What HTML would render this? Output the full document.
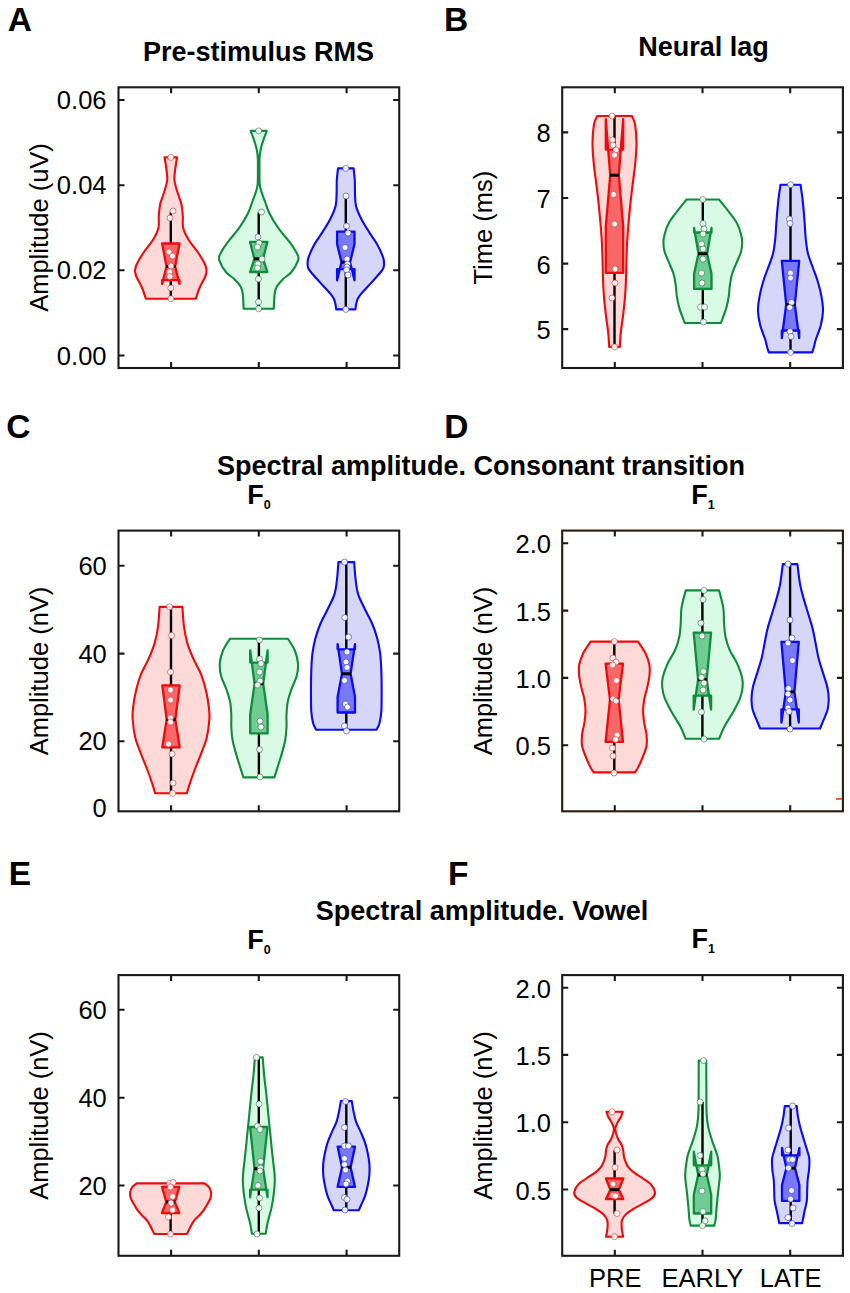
<!DOCTYPE html>
<html><head><meta charset="utf-8"><style>
html,body{margin:0;padding:0;background:#fff;}
svg{display:block;font-family:"Liberation Sans",sans-serif;}
</style></head><body>
<svg width="850" height="1293" viewBox="0 0 850 1293">
<rect width="850" height="1293" fill="#fff"/>
<path d="M164.5 157.4 L177.1 157.4 C176.82 159.17 175.85 164.23 175.4 168 C174.95 171.77 174.07 176 174.4 180 C174.73 184 176.23 188 177.4 192 C178.57 196 180.5 200 181.4 204 C182.3 208 182.5 212 182.8 216 C183.1 220 182.22 224 183.2 228 C184.18 232 186.28 236 188.7 240 C191.12 244 195.02 248 197.7 252 C200.38 256 203.33 261 204.8 264 C206.27 267 206.38 268 206.5 270 C206.62 272 206.67 273 205.5 276 C204.33 279 201.12 284.22 199.5 288 C197.88 291.78 196.42 296.92 195.8 298.7 L145.8 298.7 C145.18 296.92 143.72 291.78 142.1 288 C140.48 284.22 137.27 279 136.1 276 C134.93 273 134.98 272 135.1 270 C135.22 268 135.33 267 136.8 264 C138.27 261 141.22 256 143.9 252 C146.58 248 150.48 244 152.9 240 C155.32 236 157.42 232 158.4 228 C159.38 224 158.5 220 158.8 216 C159.1 212 159.3 208 160.2 204 C161.1 200 163.03 196 164.2 192 C165.37 188 166.87 184 167.2 180 C167.53 176 166.65 171.77 166.2 168 C165.75 164.23 164.78 159.17 164.5 157.4 Z" fill="#fdd9d8" stroke="#f00a0a" stroke-width="2.1" stroke-linejoin="round"/>
<path d="M250.6 130.9 L266.8 130.9 C266.25 132.37 264.48 136.77 263.5 139.7 C262.52 142.63 261.55 145.55 260.9 148.5 C260.25 151.45 259.83 153.98 259.6 157.4 C259.37 160.82 259.48 164.6 259.5 169 C259.52 173.4 259.4 180.1 259.7 183.8 C260 187.5 260.42 188.25 261.3 191.2 C262.18 194.15 263.65 197.83 265 201.5 C266.35 205.17 267.2 208.8 269.4 213.2 C271.6 217.6 274.77 223 278.2 227.9 C281.63 232.8 286.8 238.18 290 242.6 C293.2 247.02 296.05 251.45 297.4 254.4 C298.75 257.35 299.08 257.37 298.1 260.3 C297.12 263.23 294.07 268.82 291.5 272 C288.93 275.18 285.17 276.93 282.7 279.4 C280.23 281.87 278.05 284.35 276.7 286.8 C275.35 289.25 275.08 290.43 274.6 294.1 C274.12 297.77 273.93 306.35 273.8 308.8 L243.6 308.8 C243.47 306.35 243.28 297.77 242.8 294.1 C242.32 290.43 242.05 289.25 240.7 286.8 C239.35 284.35 237.17 281.87 234.7 279.4 C232.23 276.93 228.47 275.18 225.9 272 C223.33 268.82 220.28 263.23 219.3 260.3 C218.32 257.37 218.65 257.35 220 254.4 C221.35 251.45 224.2 247.02 227.4 242.6 C230.6 238.18 235.77 232.8 239.2 227.9 C242.63 223 245.8 217.6 248 213.2 C250.2 208.8 251.05 205.17 252.4 201.5 C253.75 197.83 255.22 194.15 256.1 191.2 C256.98 188.25 257.4 187.5 257.7 183.8 C258 180.1 257.88 173.4 257.9 169 C257.92 164.6 258.03 160.82 257.8 157.4 C257.57 153.98 257.15 151.45 256.5 148.5 C255.85 145.55 254.88 142.63 253.9 139.7 C252.92 136.77 251.15 132.37 250.6 130.9 Z" fill="#d9fbe6" stroke="#0f8c3a" stroke-width="2.1" stroke-linejoin="round"/>
<path d="M338 168.4 L353.6 168.4 C353.8 170.42 354.57 176.35 354.8 180.5 C355.03 184.65 354.8 189.05 355 193.3 C355.2 197.55 354.97 201.75 356 206 C357.03 210.25 359.07 214.53 361.2 218.8 C363.33 223.07 366.15 227.35 368.8 231.6 C371.45 235.85 374.73 240.05 377.1 244.3 C379.47 248.55 381.85 253.9 383 257.1 C384.15 260.3 384.1 261.37 384 263.5 C383.9 265.63 384.5 266.72 382.4 269.9 C380.3 273.08 375.15 278.35 371.4 282.6 C367.65 286.85 362.35 292.2 359.9 295.4 C357.45 298.6 357.45 299.47 356.7 301.8 C355.95 304.13 355.62 308.13 355.4 309.4 L336.2 309.4 C335.98 308.13 335.65 304.13 334.9 301.8 C334.15 299.47 334.15 298.6 331.7 295.4 C329.25 292.2 323.95 286.85 320.2 282.6 C316.45 278.35 311.3 273.08 309.2 269.9 C307.1 266.72 307.7 265.63 307.6 263.5 C307.5 261.37 307.45 260.3 308.6 257.1 C309.75 253.9 312.13 248.55 314.5 244.3 C316.87 240.05 320.15 235.85 322.8 231.6 C325.45 227.35 328.27 223.07 330.4 218.8 C332.53 214.53 334.57 210.25 335.6 206 C336.63 201.75 336.4 197.55 336.6 193.3 C336.8 189.05 336.57 184.65 336.8 180.5 C337.03 176.35 337.8 170.42 338 168.4 Z" fill="#d6d6f9" stroke="#0a0af5" stroke-width="2.1" stroke-linejoin="round"/>
<path d="M597.2 116 L631.8 116 C632.33 117.33 634.22 119.52 635 124 C635.78 128.48 636.43 136.58 636.5 142.9 C636.57 149.22 635.97 155.57 635.4 161.9 C634.83 168.23 633.87 174.57 633.1 180.9 C632.33 187.23 631.5 193.58 630.8 199.9 C630.1 206.22 629.47 212.48 628.9 218.8 C628.33 225.12 627.8 231.47 627.4 237.8 C627 244.13 626.72 250.48 626.5 256.8 C626.28 263.12 626.32 269.38 626.1 275.7 C625.88 282.02 625.67 288.37 625.2 294.7 C624.73 301.03 624.03 307.37 623.3 313.7 C622.57 320.03 621.38 327.17 620.8 332.7 C620.22 338.23 619.97 344.53 619.8 346.9 L609.2 346.9 C609.03 344.53 608.78 338.23 608.2 332.7 C607.62 327.17 606.43 320.03 605.7 313.7 C604.97 307.37 604.27 301.03 603.8 294.7 C603.33 288.37 603.12 282.02 602.9 275.7 C602.68 269.38 602.72 263.12 602.5 256.8 C602.28 250.48 602 244.13 601.6 237.8 C601.2 231.47 600.67 225.12 600.1 218.8 C599.53 212.48 598.9 206.22 598.2 199.9 C597.5 193.58 596.67 187.23 595.9 180.9 C595.13 174.57 594.17 168.23 593.6 161.9 C593.03 155.57 592.43 149.22 592.5 142.9 C592.57 136.58 593.22 128.48 594 124 C594.78 119.52 596.67 117.33 597.2 116 Z" fill="#fdd9d8" stroke="#f00a0a" stroke-width="2.1" stroke-linejoin="round"/>
<path d="M686.6 199.5 L719 199.5 C720.72 201.65 726.28 208.4 729.3 212.4 C732.32 216.4 735.13 219.78 737.1 223.5 C739.07 227.22 740.25 231.53 741.1 234.7 C741.95 237.87 742.2 239.7 742.2 242.5 C742.2 245.3 742.03 248.15 741.1 251.5 C740.17 254.85 738.1 258.88 736.6 262.6 C735.1 266.32 733.22 270.07 732.1 273.8 C730.98 277.53 730.45 281.27 729.9 285 C729.35 288.73 729.37 292.47 728.8 296.2 C728.23 299.93 727.53 303.68 726.5 307.4 C725.47 311.12 723.53 315.9 722.6 318.5 C721.67 321.1 721.18 322.25 720.9 323 L684.7 323 C684.42 322.25 683.93 321.1 683 318.5 C682.07 315.9 680.13 311.12 679.1 307.4 C678.07 303.68 677.37 299.93 676.8 296.2 C676.23 292.47 676.25 288.73 675.7 285 C675.15 281.27 674.62 277.53 673.5 273.8 C672.38 270.07 670.5 266.32 669 262.6 C667.5 258.88 665.43 254.85 664.5 251.5 C663.57 248.15 663.4 245.3 663.4 242.5 C663.4 239.7 663.65 237.87 664.5 234.7 C665.35 231.53 666.53 227.22 668.5 223.5 C670.47 219.78 673.28 216.4 676.3 212.4 C679.32 208.4 684.88 201.65 686.6 199.5 Z" fill="#d9fbe6" stroke="#0f8c3a" stroke-width="2.1" stroke-linejoin="round"/>
<path d="M780.5 184.7 L800.5 184.7 C800.78 186.67 801.67 192.15 802.2 196.5 C802.73 200.85 803.27 206.03 803.7 210.8 C804.13 215.57 804.45 220.33 804.8 225.1 C805.15 229.87 805.27 234.63 805.8 239.4 C806.33 244.17 806.8 248.93 808 253.7 C809.2 258.47 811.33 263.23 813 268 C814.67 272.77 816.58 277.53 818 282.3 C819.42 287.07 820.67 291.83 821.5 296.6 C822.33 301.37 823.12 306.13 823 310.9 C822.88 315.67 822 320.43 820.8 325.2 C819.6 329.97 816.93 335.92 815.8 339.5 C814.67 343.08 814.6 344.55 814 346.7 C813.4 348.85 812.5 351.45 812.2 352.4 L768.8 352.4 C768.5 351.45 767.6 348.85 767 346.7 C766.4 344.55 766.33 343.08 765.2 339.5 C764.07 335.92 761.4 329.97 760.2 325.2 C759 320.43 758.12 315.67 758 310.9 C757.88 306.13 758.67 301.37 759.5 296.6 C760.33 291.83 761.58 287.07 763 282.3 C764.42 277.53 766.33 272.77 768 268 C769.67 263.23 771.8 258.47 773 253.7 C774.2 248.93 774.67 244.17 775.2 239.4 C775.73 234.63 775.85 229.87 776.2 225.1 C776.55 220.33 776.87 215.57 777.3 210.8 C777.73 206.03 778.27 200.85 778.8 196.5 C779.33 192.15 780.22 186.67 780.5 184.7 Z" fill="#d6d6f9" stroke="#0a0af5" stroke-width="2.1" stroke-linejoin="round"/>
<path d="M159.6 606.9 L182.4 606.9 C182.67 610.2 183.2 620.75 184 626.7 C184.8 632.65 185.67 637.32 187.2 642.6 C188.73 647.88 190.88 653.12 193.2 658.4 C195.52 663.68 198.98 669 201.1 674.3 C203.22 679.6 204.63 684.92 205.9 690.2 C207.17 695.48 208.12 701.25 208.7 706 C209.28 710.75 209.73 713.42 209.4 718.7 C209.07 723.98 208.08 731.88 206.7 737.7 C205.32 743.52 203.08 748.3 201.1 753.6 C199.12 758.9 196.78 764.22 194.8 769.5 C192.82 774.78 190.52 781.33 189.2 785.3 C187.88 789.27 187.28 791.97 186.9 793.3 L155.1 793.3 C154.72 791.97 154.12 789.27 152.8 785.3 C151.48 781.33 149.18 774.78 147.2 769.5 C145.22 764.22 142.88 758.9 140.9 753.6 C138.92 748.3 136.68 743.52 135.3 737.7 C133.92 731.88 132.93 723.98 132.6 718.7 C132.27 713.42 132.72 710.75 133.3 706 C133.88 701.25 134.83 695.48 136.1 690.2 C137.37 684.92 138.78 679.6 140.9 674.3 C143.02 669 146.48 663.68 148.8 658.4 C151.12 653.12 153.27 647.88 154.8 642.6 C156.33 637.32 157.2 632.65 158 626.7 C158.8 620.75 159.33 610.2 159.6 606.9 Z" fill="#fdd9d8" stroke="#f00a0a" stroke-width="2.1" stroke-linejoin="round"/>
<path d="M229.9 638.8 L287.9 638.8 C289.05 640.75 293.12 646.42 294.8 650.5 C296.48 654.58 297.68 659.05 298 663.3 C298.32 667.55 297.77 671.75 296.7 676 C295.63 680.25 293.08 684.55 291.6 688.8 C290.12 693.05 288.65 697.25 287.8 701.5 C286.95 705.75 286.72 710.05 286.5 714.3 C286.28 718.55 286.7 722.75 286.5 727 C286.3 731.25 286.03 735.53 285.3 739.8 C284.57 744.07 283.28 748.35 282.1 752.6 C280.92 756.85 279.48 761.17 278.2 765.3 C276.92 769.43 275.03 775.38 274.4 777.4 L243.4 777.4 C242.77 775.38 240.88 769.43 239.6 765.3 C238.32 761.17 236.88 756.85 235.7 752.6 C234.52 748.35 233.23 744.07 232.5 739.8 C231.77 735.53 231.5 731.25 231.3 727 C231.1 722.75 231.52 718.55 231.3 714.3 C231.08 710.05 230.85 705.75 230 701.5 C229.15 697.25 227.68 693.05 226.2 688.8 C224.72 684.55 222.17 680.25 221.1 676 C220.03 671.75 219.48 667.55 219.8 663.3 C220.12 659.05 221.32 654.58 223 650.5 C224.68 646.42 228.75 640.75 229.9 638.8 Z" fill="#d9fbe6" stroke="#0f8c3a" stroke-width="2.1" stroke-linejoin="round"/>
<path d="M338.4 562.1 L354.2 562.1 C354.43 564.98 354.95 574.07 355.6 579.4 C356.25 584.73 356.58 589.2 358.1 594.1 C359.62 599 362.37 603.9 364.7 608.8 C367.03 613.7 370.02 618.6 372.1 623.5 C374.18 628.4 375.87 633.3 377.2 638.2 C378.53 643.1 379.43 648 380.1 652.9 C380.77 657.8 380.95 662.68 381.2 667.6 C381.45 672.52 381.53 677.48 381.6 682.4 C381.67 687.32 381.65 692.2 381.6 697.1 C381.55 702 381.67 707.4 381.3 711.8 C380.93 716.2 380.2 720.52 379.4 723.5 C378.6 726.48 376.98 728.67 376.5 729.7 L316.1 729.7 C315.62 728.67 314 726.48 313.2 723.5 C312.4 720.52 311.67 716.2 311.3 711.8 C310.93 707.4 311.05 702 311 697.1 C310.95 692.2 310.93 687.32 311 682.4 C311.07 677.48 311.15 672.52 311.4 667.6 C311.65 662.68 311.83 657.8 312.5 652.9 C313.17 648 314.07 643.1 315.4 638.2 C316.73 633.3 318.42 628.4 320.5 623.5 C322.58 618.6 325.57 613.7 327.9 608.8 C330.23 603.9 332.98 599 334.5 594.1 C336.02 589.2 336.35 584.73 337 579.4 C337.65 574.07 338.17 564.98 338.4 562.1 Z" fill="#d6d6f9" stroke="#0a0af5" stroke-width="2.1" stroke-linejoin="round"/>
<path d="M590.6 641.6 L638 641.6 C639.23 643.53 643.5 649.33 645.4 653.2 C647.3 657.07 648.73 660.93 649.4 664.8 C650.07 668.67 649.78 672.53 649.4 676.4 C649.02 680.27 647.97 684.13 647.1 688 C646.23 691.87 644.87 695.73 644.2 699.6 C643.53 703.47 643.1 707.33 643.1 711.2 C643.1 715.07 643.63 718.93 644.2 722.8 C644.77 726.67 646.12 730.53 646.5 734.4 C646.88 738.27 647.17 742.13 646.5 746 C645.83 749.87 643.85 754.12 642.5 757.6 C641.15 761.08 639.65 764.43 638.4 766.9 C637.15 769.37 635.57 771.48 635 772.4 L593.6 772.4 C593.03 771.48 591.45 769.37 590.2 766.9 C588.95 764.43 587.45 761.08 586.1 757.6 C584.75 754.12 582.77 749.87 582.1 746 C581.43 742.13 581.72 738.27 582.1 734.4 C582.48 730.53 583.83 726.67 584.4 722.8 C584.97 718.93 585.5 715.07 585.5 711.2 C585.5 707.33 585.07 703.47 584.4 699.6 C583.73 695.73 582.37 691.87 581.5 688 C580.63 684.13 579.58 680.27 579.2 676.4 C578.82 672.53 578.53 668.67 579.2 664.8 C579.87 660.93 581.3 657.07 583.2 653.2 C585.1 649.33 589.37 643.53 590.6 641.6 Z" fill="#fdd9d8" stroke="#f00a0a" stroke-width="2.1" stroke-linejoin="round"/>
<path d="M685.7 590.4 L719.1 590.4 C719.8 593.32 722.48 602.67 723.3 607.9 C724.12 613.13 723.67 617.17 724 621.8 C724.33 626.43 724.38 631.07 725.3 635.7 C726.22 640.33 727.52 644.95 729.5 649.6 C731.48 654.25 735.1 658.95 737.2 663.6 C739.3 668.25 741.2 673.55 742.1 677.5 C743 681.45 742.95 683.82 742.6 687.3 C742.25 690.78 741.6 694.23 740 698.4 C738.4 702.57 735.57 707.65 733 712.3 C730.43 716.95 726.92 721.88 724.6 726.3 C722.28 730.72 720.02 736.72 719.1 738.8 L685.7 738.8 C684.78 736.72 682.52 730.72 680.2 726.3 C677.88 721.88 674.37 716.95 671.8 712.3 C669.23 707.65 666.4 702.57 664.8 698.4 C663.2 694.23 662.55 690.78 662.2 687.3 C661.85 683.82 661.8 681.45 662.7 677.5 C663.6 673.55 665.5 668.25 667.6 663.6 C669.7 658.95 673.32 654.25 675.3 649.6 C677.28 644.95 678.58 640.33 679.5 635.7 C680.42 631.07 680.47 626.43 680.8 621.8 C681.13 617.17 680.68 613.13 681.5 607.9 C682.32 602.67 685 593.32 685.7 590.4 Z" fill="#d9fbe6" stroke="#0f8c3a" stroke-width="2.1" stroke-linejoin="round"/>
<path d="M782.8 564.1 L797.4 564.1 C797.85 567.48 799.03 578.57 800.1 584.4 C801.17 590.23 802.45 594.2 803.8 599.1 C805.15 604 806.73 608.9 808.2 613.8 C809.67 618.7 811.37 623.6 812.6 628.5 C813.83 633.4 814.62 638.3 815.6 643.2 C816.58 648.1 817.28 653 818.5 657.9 C819.72 662.8 821.42 667.68 822.9 672.6 C824.38 677.52 826.43 682.98 827.4 687.4 C828.37 691.82 828.67 695.43 828.7 699.1 C828.73 702.77 828.43 705.97 827.6 709.4 C826.77 712.83 824.97 716.52 823.7 719.7 C822.43 722.88 820.62 727.03 820 728.5 L760.2 728.5 C759.58 727.03 757.77 722.88 756.5 719.7 C755.23 716.52 753.43 712.83 752.6 709.4 C751.77 705.97 751.47 702.77 751.5 699.1 C751.53 695.43 751.83 691.82 752.8 687.4 C753.77 682.98 755.82 677.52 757.3 672.6 C758.78 667.68 760.48 662.8 761.7 657.9 C762.92 653 763.62 648.1 764.6 643.2 C765.58 638.3 766.37 633.4 767.6 628.5 C768.83 623.6 770.53 618.7 772 613.8 C773.47 608.9 775.05 604 776.4 599.1 C777.75 594.2 779.03 590.23 780.1 584.4 C781.17 578.57 782.35 567.48 782.8 564.1 Z" fill="#d6d6f9" stroke="#0a0af5" stroke-width="2.1" stroke-linejoin="round"/>
<path d="M136.6 1183.4 L204.6 1183.4 C205.3 1183.97 207.72 1185.3 208.8 1186.8 C209.88 1188.3 210.82 1190.55 211.1 1192.4 C211.38 1194.25 211.07 1196.05 210.5 1197.9 C209.93 1199.75 208.72 1201.63 207.7 1203.5 C206.68 1205.37 205.7 1207.23 204.4 1209.1 C203.1 1210.97 201.58 1212.83 199.9 1214.7 C198.22 1216.57 195.8 1218.43 194.3 1220.3 C192.8 1222.17 192.12 1223.62 190.9 1225.9 C189.68 1228.18 187.65 1232.65 187 1234 L154.2 1234 C153.55 1232.65 151.52 1228.18 150.3 1225.9 C149.08 1223.62 148.4 1222.17 146.9 1220.3 C145.4 1218.43 142.98 1216.57 141.3 1214.7 C139.62 1212.83 138.1 1210.97 136.8 1209.1 C135.5 1207.23 134.52 1205.37 133.5 1203.5 C132.48 1201.63 131.27 1199.75 130.7 1197.9 C130.13 1196.05 129.82 1194.25 130.1 1192.4 C130.38 1190.55 131.32 1188.3 132.4 1186.8 C133.48 1185.3 135.9 1183.97 136.6 1183.4 Z" fill="#fdd9d8" stroke="#f00a0a" stroke-width="2.1" stroke-linejoin="round"/>
<path d="M254.9 1057.4 L262.7 1057.4 C262.95 1060.48 263.65 1070.23 264.2 1075.9 C264.75 1081.57 265.43 1086.23 266 1091.4 C266.57 1096.57 267.08 1101.75 267.6 1106.9 C268.12 1112.05 268.58 1117.15 269.1 1122.3 C269.62 1127.45 270.18 1132.65 270.7 1137.8 C271.22 1142.95 271.65 1148.05 272.2 1153.2 C272.75 1158.35 273.57 1164.32 274 1168.7 C274.43 1173.08 274.8 1175.63 274.8 1179.5 C274.8 1183.37 274.53 1187.25 274 1191.9 C273.47 1196.55 272.67 1202.25 271.6 1207.4 C270.53 1212.55 268.58 1218.42 267.6 1222.8 C266.62 1227.18 266.02 1231.88 265.7 1233.7 L251.9 1233.7 C251.58 1231.88 250.98 1227.18 250 1222.8 C249.02 1218.42 247.07 1212.55 246 1207.4 C244.93 1202.25 244.13 1196.55 243.6 1191.9 C243.07 1187.25 242.8 1183.37 242.8 1179.5 C242.8 1175.63 243.17 1173.08 243.6 1168.7 C244.03 1164.32 244.85 1158.35 245.4 1153.2 C245.95 1148.05 246.38 1142.95 246.9 1137.8 C247.42 1132.65 247.98 1127.45 248.5 1122.3 C249.02 1117.15 249.48 1112.05 250 1106.9 C250.52 1101.75 251.03 1096.57 251.6 1091.4 C252.17 1086.23 252.85 1081.57 253.4 1075.9 C253.95 1070.23 254.65 1060.48 254.9 1057.4 Z" fill="#d9fbe6" stroke="#0f8c3a" stroke-width="2.1" stroke-linejoin="round"/>
<path d="M340.8 1101.1 L351.8 1101.1 C352.08 1102.78 352.78 1107.75 353.5 1111.2 C354.22 1114.65 354.87 1118.27 356.1 1121.8 C357.33 1125.33 359.4 1128.88 360.9 1132.4 C362.4 1135.92 363.95 1139.38 365.1 1142.9 C366.25 1146.42 367.08 1149.97 367.8 1153.5 C368.52 1157.03 369.13 1160.57 369.4 1164.1 C369.67 1167.63 369.67 1171.17 369.4 1174.7 C369.13 1178.23 368.52 1181.77 367.8 1185.3 C367.08 1188.83 366.17 1192.72 365.1 1195.9 C364.03 1199.08 362.45 1202.02 361.4 1204.4 C360.35 1206.78 359.23 1209.23 358.8 1210.2 L333.8 1210.2 C333.37 1209.23 332.25 1206.78 331.2 1204.4 C330.15 1202.02 328.57 1199.08 327.5 1195.9 C326.43 1192.72 325.52 1188.83 324.8 1185.3 C324.08 1181.77 323.47 1178.23 323.2 1174.7 C322.93 1171.17 322.93 1167.63 323.2 1164.1 C323.47 1160.57 324.08 1157.03 324.8 1153.5 C325.52 1149.97 326.35 1146.42 327.5 1142.9 C328.65 1139.38 330.2 1135.92 331.7 1132.4 C333.2 1128.88 335.27 1125.33 336.5 1121.8 C337.73 1118.27 338.38 1114.65 339.1 1111.2 C339.82 1107.75 340.52 1102.78 340.8 1101.1 Z" fill="#d6d6f9" stroke="#0a0af5" stroke-width="2.1" stroke-linejoin="round"/>
<path d="M606.5 1111.8 L622.7 1111.8 C622.42 1112.63 621.85 1115.03 621 1116.8 C620.15 1118.57 618.53 1120.53 617.6 1122.4 C616.67 1124.27 615.67 1126.13 615.4 1128 C615.13 1129.87 615.53 1131.73 616 1133.6 C616.47 1135.47 617.27 1137.33 618.2 1139.2 C619.13 1141.07 620.77 1142.93 621.6 1144.8 C622.43 1146.67 622.83 1148.53 623.2 1150.4 C623.57 1152.27 623.42 1154.13 623.8 1156 C624.18 1157.87 624.75 1159.73 625.5 1161.6 C626.25 1163.47 626.82 1165.32 628.3 1167.2 C629.78 1169.08 631.97 1171.02 634.4 1172.9 C636.83 1174.78 640.18 1176.63 642.9 1178.5 C645.62 1180.37 648.7 1181.87 650.7 1184.1 C652.7 1186.33 654.53 1189.67 654.9 1191.9 C655.27 1194.13 654.72 1195.63 652.9 1197.5 C651.08 1199.37 647.17 1201.23 644 1203.1 C640.83 1204.97 636.9 1206.83 633.9 1208.7 C630.9 1210.57 627.97 1212.43 626 1214.3 C624.03 1216.17 622.83 1218.03 622.1 1219.9 C621.37 1221.77 621.6 1223.63 621.6 1225.5 C621.6 1227.37 621.83 1229.23 622.1 1231.1 C622.37 1232.97 623.02 1235.77 623.2 1236.7 L606 1236.7 C606.18 1235.77 606.83 1232.97 607.1 1231.1 C607.37 1229.23 607.6 1227.37 607.6 1225.5 C607.6 1223.63 607.83 1221.77 607.1 1219.9 C606.37 1218.03 605.17 1216.17 603.2 1214.3 C601.23 1212.43 598.3 1210.57 595.3 1208.7 C592.3 1206.83 588.37 1204.97 585.2 1203.1 C582.03 1201.23 578.12 1199.37 576.3 1197.5 C574.48 1195.63 573.93 1194.13 574.3 1191.9 C574.67 1189.67 576.5 1186.33 578.5 1184.1 C580.5 1181.87 583.58 1180.37 586.3 1178.5 C589.02 1176.63 592.37 1174.78 594.8 1172.9 C597.23 1171.02 599.42 1169.08 600.9 1167.2 C602.38 1165.32 602.95 1163.47 603.7 1161.6 C604.45 1159.73 605.02 1157.87 605.4 1156 C605.78 1154.13 605.63 1152.27 606 1150.4 C606.37 1148.53 606.77 1146.67 607.6 1144.8 C608.43 1142.93 610.07 1141.07 611 1139.2 C611.93 1137.33 612.73 1135.47 613.2 1133.6 C613.67 1131.73 614.07 1129.87 613.8 1128 C613.53 1126.13 612.53 1124.27 611.6 1122.4 C610.67 1120.53 609.05 1118.57 608.2 1116.8 C607.35 1115.03 606.78 1112.63 606.5 1111.8 Z" fill="#fdd9d8" stroke="#f00a0a" stroke-width="2.1" stroke-linejoin="round"/>
<path d="M698.7 1060.6 L706.3 1060.6 C706.3 1063.85 706.28 1074.37 706.3 1080.1 C706.32 1085.83 706.37 1089.97 706.4 1095 C706.43 1100.03 706.25 1105.23 706.5 1110.3 C706.75 1115.37 706.98 1120.38 707.9 1125.4 C708.82 1130.42 710.43 1135.38 712 1140.4 C713.57 1145.42 716.05 1150.47 717.3 1155.5 C718.55 1160.53 719.1 1166.83 719.5 1170.6 C719.9 1174.37 719.95 1174.33 719.7 1178.1 C719.45 1181.87 718.53 1188.17 718 1193.2 C717.47 1198.23 716.88 1204.03 716.5 1208.3 C716.12 1212.57 716.07 1215.92 715.7 1218.8 C715.33 1221.68 714.53 1224.47 714.3 1225.6 L690.7 1225.6 C690.47 1224.47 689.67 1221.68 689.3 1218.8 C688.93 1215.92 688.88 1212.57 688.5 1208.3 C688.12 1204.03 687.53 1198.23 687 1193.2 C686.47 1188.17 685.55 1181.87 685.3 1178.1 C685.05 1174.33 685.1 1174.37 685.5 1170.6 C685.9 1166.83 686.45 1160.53 687.7 1155.5 C688.95 1150.47 691.43 1145.42 693 1140.4 C694.57 1135.38 696.18 1130.42 697.1 1125.4 C698.02 1120.38 698.25 1115.37 698.5 1110.3 C698.75 1105.23 698.57 1100.03 698.6 1095 C698.63 1089.97 698.68 1085.83 698.7 1080.1 C698.72 1074.37 698.7 1063.85 698.7 1060.6 Z" fill="#d9fbe6" stroke="#0f8c3a" stroke-width="2.1" stroke-linejoin="round"/>
<path d="M784.7 1106.1 L796.7 1106.1 C796.9 1107.78 797.33 1112.75 797.9 1116.2 C798.47 1119.65 799.22 1123.27 800.1 1126.8 C800.98 1130.33 802.15 1133.88 803.2 1137.4 C804.25 1140.92 805.38 1144.38 806.4 1147.9 C807.42 1151.42 808.85 1154.97 809.3 1158.5 C809.75 1162.03 809.37 1165.57 809.1 1169.1 C808.83 1172.63 808.02 1176.17 807.7 1179.7 C807.38 1183.23 807.35 1186.77 807.2 1190.3 C807.05 1193.83 807.25 1197.37 806.8 1200.9 C806.35 1204.43 805.27 1207.8 804.5 1211.5 C803.73 1215.2 802.58 1221.17 802.2 1223.1 L779.2 1223.1 C778.82 1221.17 777.67 1215.2 776.9 1211.5 C776.13 1207.8 775.05 1204.43 774.6 1200.9 C774.15 1197.37 774.35 1193.83 774.2 1190.3 C774.05 1186.77 774.02 1183.23 773.7 1179.7 C773.38 1176.17 772.57 1172.63 772.3 1169.1 C772.03 1165.57 771.65 1162.03 772.1 1158.5 C772.55 1154.97 773.98 1151.42 775 1147.9 C776.02 1144.38 777.15 1140.92 778.2 1137.4 C779.25 1133.88 780.42 1130.33 781.3 1126.8 C782.18 1123.27 782.93 1119.65 783.5 1116.2 C784.07 1112.75 784.5 1107.78 784.7 1106.1 Z" fill="#d6d6f9" stroke="#0a0af5" stroke-width="2.1" stroke-linejoin="round"/>
<line x1="170.8" y1="212.3" x2="170.8" y2="298.7" stroke="#000" stroke-width="2.4"/>
<path d="M162.1 243.5 L162.1 243.5 L166.5 266.5 L162.1 283.9 L162.1 280.1 L179.5 280.1 L179.5 283.9 L175.1 266.5 L179.5 243.5 L179.5 243.5 Z" fill="#f86868" stroke="#f00a0a" stroke-width="2.3" stroke-linejoin="round"/>
<rect x="166.2" y="265" width="9.2" height="3" fill="#000"/>
<circle cx="170.8" cy="157.4" r="3" fill="#fff" fill-opacity="0.92" stroke="#c83232" stroke-opacity="0.6" stroke-width="1"/>
<circle cx="173" cy="211" r="3" fill="#fff" fill-opacity="0.92" stroke="#c83232" stroke-opacity="0.6" stroke-width="1"/>
<circle cx="170" cy="218" r="3" fill="#fff" fill-opacity="0.92" stroke="#c83232" stroke-opacity="0.6" stroke-width="1"/>
<circle cx="169" cy="252" r="3" fill="#fff" fill-opacity="0.92" stroke="#c83232" stroke-opacity="0.6" stroke-width="1"/>
<circle cx="172.5" cy="256" r="3" fill="#fff" fill-opacity="0.92" stroke="#c83232" stroke-opacity="0.6" stroke-width="1"/>
<circle cx="171" cy="266" r="3" fill="#fff" fill-opacity="0.92" stroke="#c83232" stroke-opacity="0.6" stroke-width="1"/>
<circle cx="169.5" cy="272" r="3" fill="#fff" fill-opacity="0.92" stroke="#c83232" stroke-opacity="0.6" stroke-width="1"/>
<circle cx="169.8" cy="276.5" r="3" fill="#fff" fill-opacity="0.92" stroke="#c83232" stroke-opacity="0.6" stroke-width="1"/>
<circle cx="170.8" cy="288" r="3" fill="#fff" fill-opacity="0.92" stroke="#c83232" stroke-opacity="0.6" stroke-width="1"/>
<circle cx="170.8" cy="298.7" r="3" fill="#fff" fill-opacity="0.92" stroke="#c83232" stroke-opacity="0.6" stroke-width="1"/>
<line x1="258.7" y1="212.5" x2="258.7" y2="308.8" stroke="#000" stroke-width="2.4"/>
<path d="M250 241.9 L250 241.9 L254.4 258.8 L250 272 L250 272 L267.4 272 L267.4 272 L263 258.8 L267.4 241.9 L267.4 241.9 Z" fill="#70cc92" stroke="#0f8c3a" stroke-width="2.3" stroke-linejoin="round"/>
<rect x="254.1" y="257.3" width="9.2" height="3" fill="#000"/>
<circle cx="258.7" cy="130.9" r="3" fill="#fff" fill-opacity="0.92" stroke="#286e44" stroke-opacity="0.6" stroke-width="1"/>
<circle cx="261.5" cy="212" r="3" fill="#fff" fill-opacity="0.92" stroke="#286e44" stroke-opacity="0.6" stroke-width="1"/>
<circle cx="258" cy="237" r="3" fill="#fff" fill-opacity="0.92" stroke="#286e44" stroke-opacity="0.6" stroke-width="1"/>
<circle cx="259" cy="243" r="3" fill="#fff" fill-opacity="0.92" stroke="#286e44" stroke-opacity="0.6" stroke-width="1"/>
<circle cx="257.5" cy="247" r="3" fill="#fff" fill-opacity="0.92" stroke="#286e44" stroke-opacity="0.6" stroke-width="1"/>
<circle cx="262" cy="259" r="3" fill="#fff" fill-opacity="0.92" stroke="#286e44" stroke-opacity="0.6" stroke-width="1"/>
<circle cx="258" cy="264" r="3" fill="#fff" fill-opacity="0.92" stroke="#286e44" stroke-opacity="0.6" stroke-width="1"/>
<circle cx="257.5" cy="268" r="3" fill="#fff" fill-opacity="0.92" stroke="#286e44" stroke-opacity="0.6" stroke-width="1"/>
<circle cx="258.5" cy="279" r="3" fill="#fff" fill-opacity="0.92" stroke="#286e44" stroke-opacity="0.6" stroke-width="1"/>
<circle cx="258.5" cy="302" r="3" fill="#fff" fill-opacity="0.92" stroke="#286e44" stroke-opacity="0.6" stroke-width="1"/>
<circle cx="258.7" cy="308.8" r="3" fill="#fff" fill-opacity="0.92" stroke="#286e44" stroke-opacity="0.6" stroke-width="1"/>
<line x1="345.8" y1="196" x2="345.8" y2="309.4" stroke="#000" stroke-width="2.4"/>
<path d="M337.1 231.6 L337.1 244 L341.5 262.2 L337.1 280.3 L337.1 269.2 L354.5 269.2 L354.5 280.3 L350.1 262.2 L354.5 244 L354.5 231.6 Z" fill="#7878f8" stroke="#0a0af5" stroke-width="2.3" stroke-linejoin="round"/>
<rect x="341.2" y="260.7" width="9.2" height="3" fill="#000"/>
<circle cx="345.8" cy="168.4" r="3" fill="#fff" fill-opacity="0.92" stroke="#3232b4" stroke-opacity="0.6" stroke-width="1"/>
<circle cx="346" cy="196" r="3" fill="#fff" fill-opacity="0.92" stroke="#3232b4" stroke-opacity="0.6" stroke-width="1"/>
<circle cx="346.5" cy="226" r="3" fill="#fff" fill-opacity="0.92" stroke="#3232b4" stroke-opacity="0.6" stroke-width="1"/>
<circle cx="348" cy="233" r="3" fill="#fff" fill-opacity="0.92" stroke="#3232b4" stroke-opacity="0.6" stroke-width="1"/>
<circle cx="345" cy="247.5" r="3" fill="#fff" fill-opacity="0.92" stroke="#3232b4" stroke-opacity="0.6" stroke-width="1"/>
<circle cx="347" cy="259" r="3" fill="#fff" fill-opacity="0.92" stroke="#3232b4" stroke-opacity="0.6" stroke-width="1"/>
<circle cx="347.5" cy="264" r="3" fill="#fff" fill-opacity="0.92" stroke="#3232b4" stroke-opacity="0.6" stroke-width="1"/>
<circle cx="347" cy="267" r="3" fill="#fff" fill-opacity="0.92" stroke="#3232b4" stroke-opacity="0.6" stroke-width="1"/>
<circle cx="346.5" cy="270" r="3" fill="#fff" fill-opacity="0.92" stroke="#3232b4" stroke-opacity="0.6" stroke-width="1"/>
<circle cx="348" cy="275" r="3" fill="#fff" fill-opacity="0.92" stroke="#3232b4" stroke-opacity="0.6" stroke-width="1"/>
<circle cx="345.8" cy="309.4" r="3" fill="#fff" fill-opacity="0.92" stroke="#3232b4" stroke-opacity="0.6" stroke-width="1"/>
<line x1="614.5" y1="116" x2="614.5" y2="346.9" stroke="#000" stroke-width="2.4"/>
<path d="M605.8 149.6 L605.8 119.2 L610.2 175.2 L605.8 226.4 L605.8 272.9 L623.2 272.9 L623.2 226.4 L618.8 175.2 L623.2 119.2 L623.2 149.6 Z" fill="#f86868" stroke="#f00a0a" stroke-width="2.3" stroke-linejoin="round"/>
<rect x="609.9" y="173.7" width="9.2" height="3" fill="#000"/>
<circle cx="612" cy="116" r="3" fill="#fff" fill-opacity="0.92" stroke="#c83232" stroke-opacity="0.6" stroke-width="1"/>
<circle cx="612.5" cy="140" r="3" fill="#fff" fill-opacity="0.92" stroke="#c83232" stroke-opacity="0.6" stroke-width="1"/>
<circle cx="613" cy="145" r="3" fill="#fff" fill-opacity="0.92" stroke="#c83232" stroke-opacity="0.6" stroke-width="1"/>
<circle cx="616" cy="150" r="3" fill="#fff" fill-opacity="0.92" stroke="#c83232" stroke-opacity="0.6" stroke-width="1"/>
<circle cx="614.5" cy="155" r="3" fill="#fff" fill-opacity="0.92" stroke="#c83232" stroke-opacity="0.6" stroke-width="1"/>
<circle cx="613.5" cy="194.5" r="3" fill="#fff" fill-opacity="0.92" stroke="#c83232" stroke-opacity="0.6" stroke-width="1"/>
<circle cx="614.5" cy="224" r="3" fill="#fff" fill-opacity="0.92" stroke="#c83232" stroke-opacity="0.6" stroke-width="1"/>
<circle cx="615" cy="269" r="3" fill="#fff" fill-opacity="0.92" stroke="#c83232" stroke-opacity="0.6" stroke-width="1"/>
<circle cx="615" cy="283" r="3" fill="#fff" fill-opacity="0.92" stroke="#c83232" stroke-opacity="0.6" stroke-width="1"/>
<circle cx="612" cy="298" r="3" fill="#fff" fill-opacity="0.92" stroke="#c83232" stroke-opacity="0.6" stroke-width="1"/>
<circle cx="614.5" cy="346.9" r="3" fill="#fff" fill-opacity="0.92" stroke="#c83232" stroke-opacity="0.6" stroke-width="1"/>
<line x1="702.8" y1="199.5" x2="702.8" y2="323" stroke="#000" stroke-width="2.4"/>
<path d="M694.1 232.5 L694.1 228 L698.5 253.7 L694.1 273.8 L694.1 288.9 L711.5 288.9 L711.5 273.8 L707.1 253.7 L711.5 228 L711.5 232.5 Z" fill="#70cc92" stroke="#0f8c3a" stroke-width="2.3" stroke-linejoin="round"/>
<rect x="698.2" y="252.2" width="9.2" height="3" fill="#000"/>
<circle cx="702.8" cy="199.5" r="3" fill="#fff" fill-opacity="0.92" stroke="#286e44" stroke-opacity="0.6" stroke-width="1"/>
<circle cx="703" cy="223.5" r="3" fill="#fff" fill-opacity="0.92" stroke="#286e44" stroke-opacity="0.6" stroke-width="1"/>
<circle cx="704" cy="229" r="3" fill="#fff" fill-opacity="0.92" stroke="#286e44" stroke-opacity="0.6" stroke-width="1"/>
<circle cx="703" cy="234" r="3" fill="#fff" fill-opacity="0.92" stroke="#286e44" stroke-opacity="0.6" stroke-width="1"/>
<circle cx="701.5" cy="244" r="3" fill="#fff" fill-opacity="0.92" stroke="#286e44" stroke-opacity="0.6" stroke-width="1"/>
<circle cx="703" cy="249" r="3" fill="#fff" fill-opacity="0.92" stroke="#286e44" stroke-opacity="0.6" stroke-width="1"/>
<circle cx="703" cy="259" r="3" fill="#fff" fill-opacity="0.92" stroke="#286e44" stroke-opacity="0.6" stroke-width="1"/>
<circle cx="701.5" cy="273" r="3" fill="#fff" fill-opacity="0.92" stroke="#286e44" stroke-opacity="0.6" stroke-width="1"/>
<circle cx="702" cy="283" r="3" fill="#fff" fill-opacity="0.92" stroke="#286e44" stroke-opacity="0.6" stroke-width="1"/>
<circle cx="700.5" cy="307" r="3" fill="#fff" fill-opacity="0.92" stroke="#286e44" stroke-opacity="0.6" stroke-width="1"/>
<circle cx="704.5" cy="307" r="3" fill="#fff" fill-opacity="0.92" stroke="#286e44" stroke-opacity="0.6" stroke-width="1"/>
<circle cx="703.5" cy="322" r="3" fill="#fff" fill-opacity="0.92" stroke="#286e44" stroke-opacity="0.6" stroke-width="1"/>
<line x1="790.5" y1="184.7" x2="790.5" y2="352.4" stroke="#000" stroke-width="2.4"/>
<path d="M781.8 260.8 L781.8 260.8 L786.2 304.5 L781.8 338.1 L781.8 330.5 L799.2 330.5 L799.2 338.1 L794.8 304.5 L799.2 260.8 L799.2 260.8 Z" fill="#7878f8" stroke="#0a0af5" stroke-width="2.3" stroke-linejoin="round"/>
<rect x="785.9" y="303" width="9.2" height="3" fill="#000"/>
<circle cx="790.5" cy="184.7" r="3" fill="#fff" fill-opacity="0.92" stroke="#3232b4" stroke-opacity="0.6" stroke-width="1"/>
<circle cx="789.5" cy="219" r="3" fill="#fff" fill-opacity="0.92" stroke="#3232b4" stroke-opacity="0.6" stroke-width="1"/>
<circle cx="790" cy="223.5" r="3" fill="#fff" fill-opacity="0.92" stroke="#3232b4" stroke-opacity="0.6" stroke-width="1"/>
<circle cx="790.5" cy="273" r="3" fill="#fff" fill-opacity="0.92" stroke="#3232b4" stroke-opacity="0.6" stroke-width="1"/>
<circle cx="790.5" cy="278" r="3" fill="#fff" fill-opacity="0.92" stroke="#3232b4" stroke-opacity="0.6" stroke-width="1"/>
<circle cx="791.5" cy="302.5" r="3" fill="#fff" fill-opacity="0.92" stroke="#3232b4" stroke-opacity="0.6" stroke-width="1"/>
<circle cx="789.8" cy="307.5" r="3" fill="#fff" fill-opacity="0.92" stroke="#3232b4" stroke-opacity="0.6" stroke-width="1"/>
<circle cx="790" cy="331.5" r="3" fill="#fff" fill-opacity="0.92" stroke="#3232b4" stroke-opacity="0.6" stroke-width="1"/>
<circle cx="791" cy="336.5" r="3" fill="#fff" fill-opacity="0.92" stroke="#3232b4" stroke-opacity="0.6" stroke-width="1"/>
<circle cx="790.5" cy="352.4" r="3" fill="#fff" fill-opacity="0.92" stroke="#3232b4" stroke-opacity="0.6" stroke-width="1"/>
<line x1="171" y1="606.9" x2="171" y2="793.3" stroke="#000" stroke-width="2.4"/>
<path d="M162.3 685.4 L162.3 685.4 L166.7 719.5 L162.3 747.3 L162.3 747.3 L179.7 747.3 L179.7 747.3 L175.3 719.5 L179.7 685.4 L179.7 685.4 Z" fill="#f86868" stroke="#f00a0a" stroke-width="2.3" stroke-linejoin="round"/>
<rect x="166.4" y="718" width="9.2" height="3" fill="#000"/>
<circle cx="169.5" cy="606.9" r="3" fill="#fff" fill-opacity="0.92" stroke="#c83232" stroke-opacity="0.6" stroke-width="1"/>
<circle cx="171.5" cy="635.5" r="3" fill="#fff" fill-opacity="0.92" stroke="#c83232" stroke-opacity="0.6" stroke-width="1"/>
<circle cx="170.5" cy="672" r="3" fill="#fff" fill-opacity="0.92" stroke="#c83232" stroke-opacity="0.6" stroke-width="1"/>
<circle cx="170.5" cy="690" r="3" fill="#fff" fill-opacity="0.92" stroke="#c83232" stroke-opacity="0.6" stroke-width="1"/>
<circle cx="170.5" cy="700" r="3" fill="#fff" fill-opacity="0.92" stroke="#c83232" stroke-opacity="0.6" stroke-width="1"/>
<circle cx="170.5" cy="718" r="3" fill="#fff" fill-opacity="0.92" stroke="#c83232" stroke-opacity="0.6" stroke-width="1"/>
<circle cx="170.5" cy="722" r="3" fill="#fff" fill-opacity="0.92" stroke="#c83232" stroke-opacity="0.6" stroke-width="1"/>
<circle cx="168.5" cy="744" r="3" fill="#fff" fill-opacity="0.92" stroke="#c83232" stroke-opacity="0.6" stroke-width="1"/>
<circle cx="172" cy="754" r="3" fill="#fff" fill-opacity="0.92" stroke="#c83232" stroke-opacity="0.6" stroke-width="1"/>
<circle cx="173" cy="783" r="3" fill="#fff" fill-opacity="0.92" stroke="#c83232" stroke-opacity="0.6" stroke-width="1"/>
<circle cx="172.5" cy="793.3" r="3" fill="#fff" fill-opacity="0.92" stroke="#c83232" stroke-opacity="0.6" stroke-width="1"/>
<line x1="258.9" y1="638.8" x2="258.9" y2="777.4" stroke="#000" stroke-width="2.4"/>
<path d="M250.2 662.6 L250.2 650.5 L254.6 683.7 L250.2 714.3 L250.2 733.4 L267.6 733.4 L267.6 714.3 L263.2 683.7 L267.6 650.5 L267.6 662.6 Z" fill="#70cc92" stroke="#0f8c3a" stroke-width="2.3" stroke-linejoin="round"/>
<rect x="254.3" y="682.2" width="9.2" height="3" fill="#000"/>
<circle cx="259.5" cy="640" r="3" fill="#fff" fill-opacity="0.92" stroke="#286e44" stroke-opacity="0.6" stroke-width="1"/>
<circle cx="259.5" cy="659" r="3" fill="#fff" fill-opacity="0.92" stroke="#286e44" stroke-opacity="0.6" stroke-width="1"/>
<circle cx="261" cy="663.5" r="3" fill="#fff" fill-opacity="0.92" stroke="#286e44" stroke-opacity="0.6" stroke-width="1"/>
<circle cx="259.5" cy="672" r="3" fill="#fff" fill-opacity="0.92" stroke="#286e44" stroke-opacity="0.6" stroke-width="1"/>
<circle cx="260" cy="681" r="3" fill="#fff" fill-opacity="0.92" stroke="#286e44" stroke-opacity="0.6" stroke-width="1"/>
<circle cx="257.5" cy="685" r="3" fill="#fff" fill-opacity="0.92" stroke="#286e44" stroke-opacity="0.6" stroke-width="1"/>
<circle cx="260" cy="721" r="3" fill="#fff" fill-opacity="0.92" stroke="#286e44" stroke-opacity="0.6" stroke-width="1"/>
<circle cx="261" cy="727" r="3" fill="#fff" fill-opacity="0.92" stroke="#286e44" stroke-opacity="0.6" stroke-width="1"/>
<circle cx="259.5" cy="749.5" r="3" fill="#fff" fill-opacity="0.92" stroke="#286e44" stroke-opacity="0.6" stroke-width="1"/>
<circle cx="260" cy="777" r="3" fill="#fff" fill-opacity="0.92" stroke="#286e44" stroke-opacity="0.6" stroke-width="1"/>
<line x1="346.3" y1="562.1" x2="346.3" y2="729.7" stroke="#000" stroke-width="2.4"/>
<path d="M337.6 649.3 L337.6 644.1 L342 673.8 L337.6 697 L337.6 712.5 L355 712.5 L355 697 L350.6 673.8 L355 644.1 L355 649.3 Z" fill="#7878f8" stroke="#0a0af5" stroke-width="2.3" stroke-linejoin="round"/>
<rect x="341.7" y="672.3" width="9.2" height="3" fill="#000"/>
<circle cx="344.5" cy="562.1" r="3" fill="#fff" fill-opacity="0.92" stroke="#3232b4" stroke-opacity="0.6" stroke-width="1"/>
<circle cx="344.8" cy="617.5" r="3" fill="#fff" fill-opacity="0.92" stroke="#3232b4" stroke-opacity="0.6" stroke-width="1"/>
<circle cx="348.5" cy="637" r="3" fill="#fff" fill-opacity="0.92" stroke="#3232b4" stroke-opacity="0.6" stroke-width="1"/>
<circle cx="347" cy="652" r="3" fill="#fff" fill-opacity="0.92" stroke="#3232b4" stroke-opacity="0.6" stroke-width="1"/>
<circle cx="346" cy="662" r="3" fill="#fff" fill-opacity="0.92" stroke="#3232b4" stroke-opacity="0.6" stroke-width="1"/>
<circle cx="347" cy="667.5" r="3" fill="#fff" fill-opacity="0.92" stroke="#3232b4" stroke-opacity="0.6" stroke-width="1"/>
<circle cx="344.5" cy="680.5" r="3" fill="#fff" fill-opacity="0.92" stroke="#3232b4" stroke-opacity="0.6" stroke-width="1"/>
<circle cx="345.5" cy="704" r="3" fill="#fff" fill-opacity="0.92" stroke="#3232b4" stroke-opacity="0.6" stroke-width="1"/>
<circle cx="347.5" cy="707" r="3" fill="#fff" fill-opacity="0.92" stroke="#3232b4" stroke-opacity="0.6" stroke-width="1"/>
<circle cx="344.5" cy="726" r="3" fill="#fff" fill-opacity="0.92" stroke="#3232b4" stroke-opacity="0.6" stroke-width="1"/>
<circle cx="346.5" cy="731" r="3" fill="#fff" fill-opacity="0.92" stroke="#3232b4" stroke-opacity="0.6" stroke-width="1"/>
<line x1="614.3" y1="641.6" x2="614.3" y2="772.4" stroke="#000" stroke-width="2.4"/>
<path d="M605.6 663.6 L605.6 663.6 L610 699.6 L605.6 741.9 L605.6 741.9 L623 741.9 L623 741.9 L618.6 699.6 L623 663.6 L623 663.6 Z" fill="#f86868" stroke="#f00a0a" stroke-width="2.3" stroke-linejoin="round"/>
<rect x="609.7" y="698.1" width="9.2" height="3" fill="#000"/>
<circle cx="614.3" cy="641.6" r="3" fill="#fff" fill-opacity="0.92" stroke="#c83232" stroke-opacity="0.6" stroke-width="1"/>
<circle cx="613" cy="658" r="3" fill="#fff" fill-opacity="0.92" stroke="#c83232" stroke-opacity="0.6" stroke-width="1"/>
<circle cx="616" cy="662" r="3" fill="#fff" fill-opacity="0.92" stroke="#c83232" stroke-opacity="0.6" stroke-width="1"/>
<circle cx="612.5" cy="665" r="3" fill="#fff" fill-opacity="0.92" stroke="#c83232" stroke-opacity="0.6" stroke-width="1"/>
<circle cx="616.5" cy="680.5" r="3" fill="#fff" fill-opacity="0.92" stroke="#c83232" stroke-opacity="0.6" stroke-width="1"/>
<circle cx="613" cy="699" r="3" fill="#fff" fill-opacity="0.92" stroke="#c83232" stroke-opacity="0.6" stroke-width="1"/>
<circle cx="616" cy="701" r="3" fill="#fff" fill-opacity="0.92" stroke="#c83232" stroke-opacity="0.6" stroke-width="1"/>
<circle cx="617" cy="735" r="3" fill="#fff" fill-opacity="0.92" stroke="#c83232" stroke-opacity="0.6" stroke-width="1"/>
<circle cx="615.5" cy="739.5" r="3" fill="#fff" fill-opacity="0.92" stroke="#c83232" stroke-opacity="0.6" stroke-width="1"/>
<circle cx="612.5" cy="748" r="3" fill="#fff" fill-opacity="0.92" stroke="#c83232" stroke-opacity="0.6" stroke-width="1"/>
<circle cx="613" cy="756" r="3" fill="#fff" fill-opacity="0.92" stroke="#c83232" stroke-opacity="0.6" stroke-width="1"/>
<circle cx="614" cy="773" r="3" fill="#fff" fill-opacity="0.92" stroke="#c83232" stroke-opacity="0.6" stroke-width="1"/>
<line x1="702.4" y1="590.4" x2="702.4" y2="738.8" stroke="#000" stroke-width="2.4"/>
<path d="M693.7 632.7 L693.7 632.7 L698.1 679.6 L693.7 709.5 L693.7 695.6 L711.1 695.6 L711.1 709.5 L706.7 679.6 L711.1 632.7 L711.1 632.7 Z" fill="#70cc92" stroke="#0f8c3a" stroke-width="2.3" stroke-linejoin="round"/>
<rect x="697.8" y="678.1" width="9.2" height="3" fill="#000"/>
<circle cx="704" cy="590.4" r="3" fill="#fff" fill-opacity="0.92" stroke="#286e44" stroke-opacity="0.6" stroke-width="1"/>
<circle cx="703" cy="599.5" r="3" fill="#fff" fill-opacity="0.92" stroke="#286e44" stroke-opacity="0.6" stroke-width="1"/>
<circle cx="701" cy="623" r="3" fill="#fff" fill-opacity="0.92" stroke="#286e44" stroke-opacity="0.6" stroke-width="1"/>
<circle cx="702" cy="636" r="3" fill="#fff" fill-opacity="0.92" stroke="#286e44" stroke-opacity="0.6" stroke-width="1"/>
<circle cx="703.5" cy="671.5" r="3" fill="#fff" fill-opacity="0.92" stroke="#286e44" stroke-opacity="0.6" stroke-width="1"/>
<circle cx="701.5" cy="677.5" r="3" fill="#fff" fill-opacity="0.92" stroke="#286e44" stroke-opacity="0.6" stroke-width="1"/>
<circle cx="704" cy="683" r="3" fill="#fff" fill-opacity="0.92" stroke="#286e44" stroke-opacity="0.6" stroke-width="1"/>
<circle cx="703" cy="690" r="3" fill="#fff" fill-opacity="0.92" stroke="#286e44" stroke-opacity="0.6" stroke-width="1"/>
<circle cx="701.5" cy="712" r="3" fill="#fff" fill-opacity="0.92" stroke="#286e44" stroke-opacity="0.6" stroke-width="1"/>
<circle cx="704" cy="739" r="3" fill="#fff" fill-opacity="0.92" stroke="#286e44" stroke-opacity="0.6" stroke-width="1"/>
<line x1="790.1" y1="564.1" x2="790.1" y2="728.5" stroke="#000" stroke-width="2.4"/>
<path d="M781.4 641.8 L781.4 641.8 L785.8 691.8 L781.4 722.6 L781.4 709.4 L798.8 709.4 L798.8 722.6 L794.4 691.8 L798.8 641.8 L798.8 641.8 Z" fill="#7878f8" stroke="#0a0af5" stroke-width="2.3" stroke-linejoin="round"/>
<rect x="785.5" y="690.3" width="9.2" height="3" fill="#000"/>
<circle cx="788" cy="564" r="3" fill="#fff" fill-opacity="0.92" stroke="#3232b4" stroke-opacity="0.6" stroke-width="1"/>
<circle cx="790" cy="620" r="3" fill="#fff" fill-opacity="0.92" stroke="#3232b4" stroke-opacity="0.6" stroke-width="1"/>
<circle cx="792" cy="638" r="3" fill="#fff" fill-opacity="0.92" stroke="#3232b4" stroke-opacity="0.6" stroke-width="1"/>
<circle cx="788" cy="643" r="3" fill="#fff" fill-opacity="0.92" stroke="#3232b4" stroke-opacity="0.6" stroke-width="1"/>
<circle cx="792.5" cy="660.5" r="3" fill="#fff" fill-opacity="0.92" stroke="#3232b4" stroke-opacity="0.6" stroke-width="1"/>
<circle cx="788.5" cy="688.5" r="3" fill="#fff" fill-opacity="0.92" stroke="#3232b4" stroke-opacity="0.6" stroke-width="1"/>
<circle cx="788" cy="694" r="3" fill="#fff" fill-opacity="0.92" stroke="#3232b4" stroke-opacity="0.6" stroke-width="1"/>
<circle cx="790" cy="700" r="3" fill="#fff" fill-opacity="0.92" stroke="#3232b4" stroke-opacity="0.6" stroke-width="1"/>
<circle cx="788" cy="708" r="3" fill="#fff" fill-opacity="0.92" stroke="#3232b4" stroke-opacity="0.6" stroke-width="1"/>
<circle cx="789" cy="711.5" r="3" fill="#fff" fill-opacity="0.92" stroke="#3232b4" stroke-opacity="0.6" stroke-width="1"/>
<circle cx="790" cy="729" r="3" fill="#fff" fill-opacity="0.92" stroke="#3232b4" stroke-opacity="0.6" stroke-width="1"/>
<line x1="170.6" y1="1181" x2="170.6" y2="1234" stroke="#000" stroke-width="2.4"/>
<path d="M161.9 1186.8 L161.9 1186.8 L166.3 1201.9 L161.9 1213 L161.9 1213 L179.3 1213 L179.3 1213 L174.9 1201.9 L179.3 1186.8 L179.3 1186.8 Z" fill="#f86868" stroke="#f00a0a" stroke-width="2.3" stroke-linejoin="round"/>
<rect x="166" y="1200.4" width="9.2" height="3" fill="#000"/>
<circle cx="169.5" cy="1183.5" r="3" fill="#fff" fill-opacity="0.92" stroke="#c83232" stroke-opacity="0.6" stroke-width="1"/>
<circle cx="173" cy="1182.5" r="3" fill="#fff" fill-opacity="0.92" stroke="#c83232" stroke-opacity="0.6" stroke-width="1"/>
<circle cx="170.5" cy="1187" r="3" fill="#fff" fill-opacity="0.92" stroke="#c83232" stroke-opacity="0.6" stroke-width="1"/>
<circle cx="172.5" cy="1196.5" r="3" fill="#fff" fill-opacity="0.92" stroke="#c83232" stroke-opacity="0.6" stroke-width="1"/>
<circle cx="171" cy="1203" r="3" fill="#fff" fill-opacity="0.92" stroke="#c83232" stroke-opacity="0.6" stroke-width="1"/>
<circle cx="172.5" cy="1210" r="3" fill="#fff" fill-opacity="0.92" stroke="#c83232" stroke-opacity="0.6" stroke-width="1"/>
<circle cx="168.5" cy="1217" r="3" fill="#fff" fill-opacity="0.92" stroke="#c83232" stroke-opacity="0.6" stroke-width="1"/>
<circle cx="170.5" cy="1234" r="3" fill="#fff" fill-opacity="0.92" stroke="#c83232" stroke-opacity="0.6" stroke-width="1"/>
<line x1="258.8" y1="1057.4" x2="258.8" y2="1233.7" stroke="#000" stroke-width="2.4"/>
<path d="M250.1 1127 L250.1 1127 L254.5 1168.7 L250.1 1197.3 L250.1 1189.6 L267.5 1189.6 L267.5 1197.3 L263.1 1168.7 L267.5 1127 L267.5 1127 Z" fill="#70cc92" stroke="#0f8c3a" stroke-width="2.3" stroke-linejoin="round"/>
<rect x="254.2" y="1167.2" width="9.2" height="3" fill="#000"/>
<circle cx="256.5" cy="1057.4" r="3" fill="#fff" fill-opacity="0.92" stroke="#286e44" stroke-opacity="0.6" stroke-width="1"/>
<circle cx="259" cy="1104" r="3" fill="#fff" fill-opacity="0.92" stroke="#286e44" stroke-opacity="0.6" stroke-width="1"/>
<circle cx="257.5" cy="1126" r="3" fill="#fff" fill-opacity="0.92" stroke="#286e44" stroke-opacity="0.6" stroke-width="1"/>
<circle cx="260" cy="1129.5" r="3" fill="#fff" fill-opacity="0.92" stroke="#286e44" stroke-opacity="0.6" stroke-width="1"/>
<circle cx="260.5" cy="1161.5" r="3" fill="#fff" fill-opacity="0.92" stroke="#286e44" stroke-opacity="0.6" stroke-width="1"/>
<circle cx="260.5" cy="1168" r="3" fill="#fff" fill-opacity="0.92" stroke="#286e44" stroke-opacity="0.6" stroke-width="1"/>
<circle cx="260" cy="1171" r="3" fill="#fff" fill-opacity="0.92" stroke="#286e44" stroke-opacity="0.6" stroke-width="1"/>
<circle cx="258" cy="1185.5" r="3" fill="#fff" fill-opacity="0.92" stroke="#286e44" stroke-opacity="0.6" stroke-width="1"/>
<circle cx="259.5" cy="1198" r="3" fill="#fff" fill-opacity="0.92" stroke="#286e44" stroke-opacity="0.6" stroke-width="1"/>
<circle cx="259" cy="1208" r="3" fill="#fff" fill-opacity="0.92" stroke="#286e44" stroke-opacity="0.6" stroke-width="1"/>
<circle cx="257" cy="1234" r="3" fill="#fff" fill-opacity="0.92" stroke="#286e44" stroke-opacity="0.6" stroke-width="1"/>
<line x1="346.3" y1="1101.1" x2="346.3" y2="1210.2" stroke="#000" stroke-width="2.4"/>
<path d="M337.6 1146.6 L337.6 1146.6 L342 1167.3 L337.6 1186.9 L337.6 1186.9 L355 1186.9 L355 1186.9 L350.6 1167.3 L355 1146.6 L355 1146.6 Z" fill="#7878f8" stroke="#0a0af5" stroke-width="2.3" stroke-linejoin="round"/>
<rect x="341.7" y="1165.8" width="9.2" height="3" fill="#000"/>
<circle cx="345.5" cy="1101.5" r="3" fill="#fff" fill-opacity="0.92" stroke="#3232b4" stroke-opacity="0.6" stroke-width="1"/>
<circle cx="344.5" cy="1127.5" r="3" fill="#fff" fill-opacity="0.92" stroke="#3232b4" stroke-opacity="0.6" stroke-width="1"/>
<circle cx="344.5" cy="1146" r="3" fill="#fff" fill-opacity="0.92" stroke="#3232b4" stroke-opacity="0.6" stroke-width="1"/>
<circle cx="348.5" cy="1146" r="3" fill="#fff" fill-opacity="0.92" stroke="#3232b4" stroke-opacity="0.6" stroke-width="1"/>
<circle cx="344.5" cy="1158.5" r="3" fill="#fff" fill-opacity="0.92" stroke="#3232b4" stroke-opacity="0.6" stroke-width="1"/>
<circle cx="344.5" cy="1164.5" r="3" fill="#fff" fill-opacity="0.92" stroke="#3232b4" stroke-opacity="0.6" stroke-width="1"/>
<circle cx="345.5" cy="1170" r="3" fill="#fff" fill-opacity="0.92" stroke="#3232b4" stroke-opacity="0.6" stroke-width="1"/>
<circle cx="347.5" cy="1181" r="3" fill="#fff" fill-opacity="0.92" stroke="#3232b4" stroke-opacity="0.6" stroke-width="1"/>
<circle cx="346" cy="1184" r="3" fill="#fff" fill-opacity="0.92" stroke="#3232b4" stroke-opacity="0.6" stroke-width="1"/>
<circle cx="344.5" cy="1197.5" r="3" fill="#fff" fill-opacity="0.92" stroke="#3232b4" stroke-opacity="0.6" stroke-width="1"/>
<circle cx="347" cy="1199.5" r="3" fill="#fff" fill-opacity="0.92" stroke="#3232b4" stroke-opacity="0.6" stroke-width="1"/>
<circle cx="345" cy="1210" r="3" fill="#fff" fill-opacity="0.92" stroke="#3232b4" stroke-opacity="0.6" stroke-width="1"/>
<line x1="614.6" y1="1150.4" x2="614.6" y2="1213.8" stroke="#000" stroke-width="2.4"/>
<path d="M605.9 1178.5 L605.9 1178.5 L610.3 1189.7 L605.9 1199.2 L605.9 1199.2 L623.3 1199.2 L623.3 1199.2 L618.9 1189.7 L623.3 1178.5 L623.3 1178.5 Z" fill="#f86868" stroke="#f00a0a" stroke-width="2.3" stroke-linejoin="round"/>
<rect x="610" y="1188.2" width="9.2" height="3" fill="#000"/>
<circle cx="612" cy="1111.8" r="3" fill="#fff" fill-opacity="0.92" stroke="#c83232" stroke-opacity="0.6" stroke-width="1"/>
<circle cx="617" cy="1150" r="3" fill="#fff" fill-opacity="0.92" stroke="#c83232" stroke-opacity="0.6" stroke-width="1"/>
<circle cx="615" cy="1167.5" r="3" fill="#fff" fill-opacity="0.92" stroke="#c83232" stroke-opacity="0.6" stroke-width="1"/>
<circle cx="613" cy="1184" r="3" fill="#fff" fill-opacity="0.92" stroke="#c83232" stroke-opacity="0.6" stroke-width="1"/>
<circle cx="613.5" cy="1195.5" r="3" fill="#fff" fill-opacity="0.92" stroke="#c83232" stroke-opacity="0.6" stroke-width="1"/>
<circle cx="615.5" cy="1196" r="3" fill="#fff" fill-opacity="0.92" stroke="#c83232" stroke-opacity="0.6" stroke-width="1"/>
<circle cx="617" cy="1213.5" r="3" fill="#fff" fill-opacity="0.92" stroke="#c83232" stroke-opacity="0.6" stroke-width="1"/>
<circle cx="614.5" cy="1236.7" r="3" fill="#fff" fill-opacity="0.92" stroke="#c83232" stroke-opacity="0.6" stroke-width="1"/>
<line x1="702.5" y1="1102" x2="702.5" y2="1225.6" stroke="#000" stroke-width="2.4"/>
<path d="M693.8 1165.3 L693.8 1151.7 L698.2 1175 L693.8 1194.7 L693.8 1213.5 L711.2 1213.5 L711.2 1194.7 L706.8 1175 L711.2 1151.7 L711.2 1165.3 Z" fill="#70cc92" stroke="#0f8c3a" stroke-width="2.3" stroke-linejoin="round"/>
<rect x="697.9" y="1173.5" width="9.2" height="3" fill="#000"/>
<circle cx="703.5" cy="1060.6" r="3" fill="#fff" fill-opacity="0.92" stroke="#286e44" stroke-opacity="0.6" stroke-width="1"/>
<circle cx="700" cy="1102" r="3" fill="#fff" fill-opacity="0.92" stroke="#286e44" stroke-opacity="0.6" stroke-width="1"/>
<circle cx="700" cy="1155.5" r="3" fill="#fff" fill-opacity="0.92" stroke="#286e44" stroke-opacity="0.6" stroke-width="1"/>
<circle cx="702" cy="1169.5" r="3" fill="#fff" fill-opacity="0.92" stroke="#286e44" stroke-opacity="0.6" stroke-width="1"/>
<circle cx="703" cy="1174" r="3" fill="#fff" fill-opacity="0.92" stroke="#286e44" stroke-opacity="0.6" stroke-width="1"/>
<circle cx="702" cy="1191" r="3" fill="#fff" fill-opacity="0.92" stroke="#286e44" stroke-opacity="0.6" stroke-width="1"/>
<circle cx="703" cy="1211.5" r="3" fill="#fff" fill-opacity="0.92" stroke="#286e44" stroke-opacity="0.6" stroke-width="1"/>
<circle cx="705" cy="1221" r="3" fill="#fff" fill-opacity="0.92" stroke="#286e44" stroke-opacity="0.6" stroke-width="1"/>
<circle cx="702.5" cy="1225.6" r="3" fill="#fff" fill-opacity="0.92" stroke="#286e44" stroke-opacity="0.6" stroke-width="1"/>
<line x1="790.7" y1="1106.1" x2="790.7" y2="1223.1" stroke="#000" stroke-width="2.4"/>
<path d="M782 1155.4 L782 1147.9 L786.4 1168.1 L782 1185 L782 1200.9 L799.4 1200.9 L799.4 1185 L795 1168.1 L799.4 1147.9 L799.4 1155.4 Z" fill="#7878f8" stroke="#0a0af5" stroke-width="2.3" stroke-linejoin="round"/>
<rect x="786.1" y="1166.6" width="9.2" height="3" fill="#000"/>
<circle cx="792.5" cy="1106" r="3" fill="#fff" fill-opacity="0.92" stroke="#3232b4" stroke-opacity="0.6" stroke-width="1"/>
<circle cx="788.5" cy="1128" r="3" fill="#fff" fill-opacity="0.92" stroke="#3232b4" stroke-opacity="0.6" stroke-width="1"/>
<circle cx="788" cy="1150" r="3" fill="#fff" fill-opacity="0.92" stroke="#3232b4" stroke-opacity="0.6" stroke-width="1"/>
<circle cx="789.5" cy="1159.5" r="3" fill="#fff" fill-opacity="0.92" stroke="#3232b4" stroke-opacity="0.6" stroke-width="1"/>
<circle cx="792.5" cy="1159.5" r="3" fill="#fff" fill-opacity="0.92" stroke="#3232b4" stroke-opacity="0.6" stroke-width="1"/>
<circle cx="788.5" cy="1168" r="3" fill="#fff" fill-opacity="0.92" stroke="#3232b4" stroke-opacity="0.6" stroke-width="1"/>
<circle cx="791.5" cy="1190.5" r="3" fill="#fff" fill-opacity="0.92" stroke="#3232b4" stroke-opacity="0.6" stroke-width="1"/>
<circle cx="790.5" cy="1199" r="3" fill="#fff" fill-opacity="0.92" stroke="#3232b4" stroke-opacity="0.6" stroke-width="1"/>
<circle cx="793" cy="1208" r="3" fill="#fff" fill-opacity="0.92" stroke="#3232b4" stroke-opacity="0.6" stroke-width="1"/>
<circle cx="788" cy="1217.5" r="3" fill="#fff" fill-opacity="0.92" stroke="#3232b4" stroke-opacity="0.6" stroke-width="1"/>
<circle cx="792" cy="1223.5" r="3" fill="#fff" fill-opacity="0.92" stroke="#3232b4" stroke-opacity="0.6" stroke-width="1"/>
<g stroke="#1a1a1a" stroke-width="2.1" fill="none">
<rect x="118.5" y="87.3" width="280.7" height="280.7" stroke="#1a1a1a"/>
<path d="M171.1 87.3 V93.3 M171.1 368 V362 M258.8 87.3 V93.3 M258.8 368 V362 M346.6 87.3 V93.3 M346.6 368 V362 M118.5 100 H124.5 M399.2 100 H393.2 M118.5 185.2 H124.5 M399.2 185.2 H393.2 M118.5 270.3 H124.5 M399.2 270.3 H393.2 M118.5 355.5 H124.5 M399.2 355.5 H393.2"/>
</g>
<g stroke="#1a1a1a" stroke-width="2.1" fill="none">
<rect x="562.2" y="87.3" width="280.7" height="280.7" stroke="#1a1a1a"/>
<path d="M614.8 87.3 V93.3 M614.8 368 V362 M702.5 87.3 V93.3 M702.5 368 V362 M790.2 87.3 V93.3 M790.2 368 V362 M562.2 132.4 H568.2 M842.9 132.4 H836.9 M562.2 198 H568.2 M842.9 198 H836.9 M562.2 263.6 H568.2 M842.9 263.6 H836.9 M562.2 329.1 H568.2 M842.9 329.1 H836.9"/>
</g>
<g stroke="#1a1a1a" stroke-width="2.1" fill="none">
<rect x="118.5" y="530.6" width="280.7" height="280.7" stroke="#1a1a1a"/>
<path d="M171.1 530.6 V536.6 M171.1 811.3 V805.3 M258.8 530.6 V536.6 M258.8 811.3 V805.3 M346.6 530.6 V536.6 M346.6 811.3 V805.3 M118.5 565.7 H124.5 M399.2 565.7 H393.2 M118.5 653.6 H124.5 M399.2 653.6 H393.2 M118.5 741.3 H124.5 M399.2 741.3 H393.2"/>
</g>
<g stroke="#1a1a1a" stroke-width="2.1" fill="none">
<rect x="562.2" y="530.6" width="280.7" height="280.7" stroke="#2c1a0c"/>
<path d="M614.8 530.6 V536.6 M614.8 811.3 V805.3 M702.5 530.6 V536.6 M702.5 811.3 V805.3 M790.2 530.6 V536.6 M790.2 811.3 V805.3 M562.2 543.3 H568.2 M842.9 543.3 H836.9 M562.2 610.6 H568.2 M842.9 610.6 H836.9 M562.2 677.9 H568.2 M842.9 677.9 H836.9 M562.2 745.2 H568.2 M842.9 745.2 H836.9"/>
</g>
<g stroke="#1a1a1a" stroke-width="2.1" fill="none">
<rect x="118.5" y="975.1" width="280.7" height="280.7" stroke="#1a1a1a"/>
<path d="M171.1 975.1 V981.1 M171.1 1255.8 V1249.8 M258.8 975.1 V981.1 M258.8 1255.8 V1249.8 M346.6 975.1 V981.1 M346.6 1255.8 V1249.8 M118.5 1009.8 H124.5 M399.2 1009.8 H393.2 M118.5 1097.7 H124.5 M399.2 1097.7 H393.2 M118.5 1185.5 H124.5 M399.2 1185.5 H393.2"/>
</g>
<g stroke="#1a1a1a" stroke-width="2.1" fill="none">
<rect x="562.2" y="975.1" width="280.7" height="280.7" stroke="#1a1a1a"/>
<path d="M614.8 975.1 V981.1 M614.8 1255.8 V1249.8 M702.5 975.1 V981.1 M702.5 1255.8 V1249.8 M790.2 975.1 V981.1 M790.2 1255.8 V1249.8 M562.2 987.7 H568.2 M842.9 987.7 H836.9 M562.2 1054.9 H568.2 M842.9 1054.9 H836.9 M562.2 1122.2 H568.2 M842.9 1122.2 H836.9 M562.2 1189.5 H568.2 M842.9 1189.5 H836.9"/>
</g>
<line x1="836" y1="798.9" x2="842" y2="798.9" stroke="#ff5a1e" stroke-width="2"/>
<text x="7.8" y="31.2" font-size="33.5" font-weight="bold"  text-anchor="start" >A</text>
<text x="444" y="30.6" font-size="33.5" font-weight="bold"  text-anchor="start" >B</text>
<text x="6.2" y="437.5" font-size="33.5" font-weight="bold"  text-anchor="start" >C</text>
<text x="444.2" y="437.9" font-size="33.5" font-weight="bold"  text-anchor="start" >D</text>
<text x="8.7" y="885.4" font-size="33.5" font-weight="bold"  text-anchor="start" >E</text>
<text x="448" y="885.4" font-size="33.5" font-weight="bold"  text-anchor="start" >F</text>
<text x="258.5" y="60.8" font-size="27" font-weight="bold"  text-anchor="middle" >Pre-stimulus RMS</text>
<text x="703.5" y="55.6" font-size="27" font-weight="bold"  text-anchor="middle" >Neural lag</text>
<text x="481" y="474.6" font-size="27" font-weight="bold"  text-anchor="middle" >Spectral amplitude. Consonant transition</text>
<text x="482" y="919.6" font-size="27" font-weight="bold"  text-anchor="middle" >Spectral amplitude. Vowel</text>
<text x="247.2" y="504.4" font-size="27" font-weight="bold" font-family="Liberation Sans, sans-serif">F<tspan font-size="12.5" dx="0" dy="5">0</tspan></text>
<text x="691.3" y="504.4" font-size="27" font-weight="bold" font-family="Liberation Sans, sans-serif">F<tspan font-size="12.5" dx="0" dy="5">1</tspan></text>
<text x="247.3" y="948.8" font-size="27" font-weight="bold" font-family="Liberation Sans, sans-serif">F<tspan font-size="12.5" dx="0" dy="5">0</tspan></text>
<text x="691.5" y="948.2" font-size="27" font-weight="bold" font-family="Liberation Sans, sans-serif">F<tspan font-size="12.5" dx="0" dy="5">1</tspan></text>
<text x="106.5" y="109" font-size="25.5"  text-anchor="end" >0.06</text>
<text x="106.5" y="194.2" font-size="25.5"  text-anchor="end" >0.04</text>
<text x="106.5" y="279.3" font-size="25.5"  text-anchor="end" >0.02</text>
<text x="106.5" y="364.5" font-size="25.5"  text-anchor="end" >0.00</text>
<text x="550.8" y="142.4" font-size="25.5"  text-anchor="end" >8</text>
<text x="550.8" y="208" font-size="25.5"  text-anchor="end" >7</text>
<text x="550.8" y="273.6" font-size="25.5"  text-anchor="end" >6</text>
<text x="550.8" y="339.1" font-size="25.5"  text-anchor="end" >5</text>
<text x="106.8" y="574.7" font-size="25.5"  text-anchor="end" >60</text>
<text x="106.8" y="662.6" font-size="25.5"  text-anchor="end" >40</text>
<text x="106.8" y="750.3" font-size="25.5"  text-anchor="end" >20</text>
<text x="106.8" y="817" font-size="25.5"  text-anchor="end" >0</text>
<text x="551" y="553.3" font-size="25.5"  text-anchor="end" >2.0</text>
<text x="551" y="620.6" font-size="25.5"  text-anchor="end" >1.5</text>
<text x="551" y="687.9" font-size="25.5"  text-anchor="end" >1.0</text>
<text x="551" y="755.2" font-size="25.5"  text-anchor="end" >0.5</text>
<text x="106.8" y="1018.8" font-size="25.5"  text-anchor="end" >60</text>
<text x="106.8" y="1106.7" font-size="25.5"  text-anchor="end" >40</text>
<text x="106.8" y="1194.5" font-size="25.5"  text-anchor="end" >20</text>
<text x="551" y="997.7" font-size="25.5"  text-anchor="end" >2.0</text>
<text x="551" y="1064.9" font-size="25.5"  text-anchor="end" >1.5</text>
<text x="551" y="1132.2" font-size="25.5"  text-anchor="end" >1.0</text>
<text x="551" y="1199.5" font-size="25.5"  text-anchor="end" >0.5</text>
<text transform="translate(48.3 227.5) rotate(-90)" font-size="25.5" text-anchor="middle" font-family="Liberation Sans, sans-serif">Amplitude (uV)</text>
<text transform="translate(491.8 227.7) rotate(-90)" font-size="25.5" text-anchor="middle" font-family="Liberation Sans, sans-serif">Time (ms)</text>
<text transform="translate(48.3 671) rotate(-90)" font-size="25.5" text-anchor="middle" font-family="Liberation Sans, sans-serif">Amplitude (nV)</text>
<text transform="translate(491.8 671) rotate(-90)" font-size="25.5" text-anchor="middle" font-family="Liberation Sans, sans-serif">Amplitude (nV)</text>
<text transform="translate(48.3 1115.5) rotate(-90)" font-size="25.5" text-anchor="middle" font-family="Liberation Sans, sans-serif">Amplitude (nV)</text>
<text transform="translate(491.8 1115.5) rotate(-90)" font-size="25.5" text-anchor="middle" font-family="Liberation Sans, sans-serif">Amplitude (nV)</text>
<text x="615.3" y="1287" font-size="25.5"  text-anchor="middle" >PRE</text>
<text x="702.4" y="1287" font-size="25.5"  text-anchor="middle" >EARLY</text>
<text x="790.7" y="1287" font-size="25.5"  text-anchor="middle" >LATE</text>

</svg>
</body></html>
